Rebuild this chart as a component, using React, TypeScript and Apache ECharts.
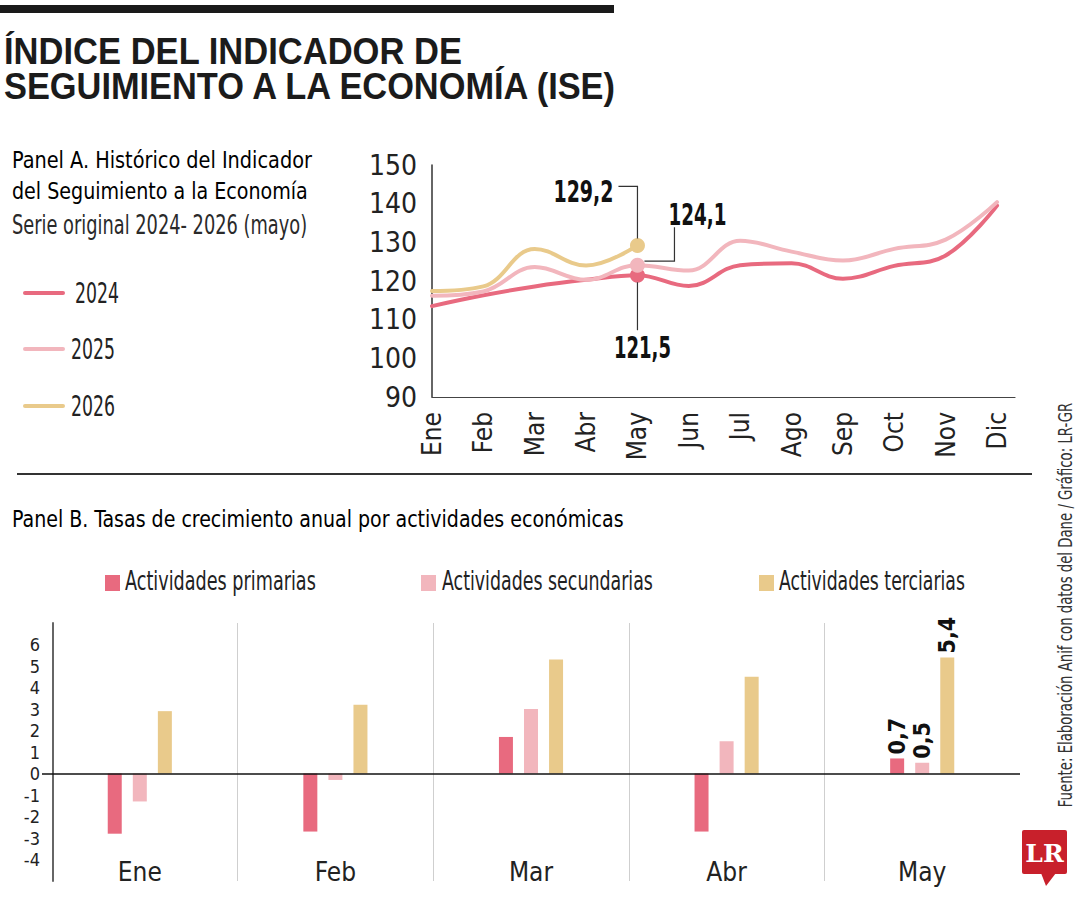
import React, { useEffect, useRef } from "react";
import * as echarts from "echarts";

// ---------- data ----------
const months = ["Ene", "Feb", "Mar", "Abr", "May", "Jun", "Jul", "Ago", "Sep", "Oct", "Nov", "Dic"];
const years = ["2024", "2025", "2026"];
const ise2024 = [113.5, 116.3, 118.6, 120.3, 121.5, 118.7, 124.1, 124.6, 120.6, 123.9, 126.6, 139.5];
const ise2025 = [116.2, 117.3, 123.6, 120.3, 124.1, 122.7, 130.4, 127.6, 125.3, 128.3, 130.7, 140.4];
const ise2026 = [117.4, 118.6, 128.3, 124.0, 129.2];

const barMonths = ["Ene", "Feb", "Mar", "Abr", "May"];
const sectors = ["Actividades primarias", "Actividades secundarias", "Actividades terciarias"];
const primarias = [-2.8, -2.7, 1.7, -2.7, 0.7];
const secundarias = [-1.3, -0.3, 3.0, 1.5, 0.5];
const terciarias = [2.9, 3.2, 5.3, 4.5, 5.4];

const title1 = "ÍNDICE DEL INDICADOR DE";
const title2 = "SEGUIMIENTO A LA ECONOMÍA (ISE)";
const panelA1 = "Panel A. Histórico del Indicador";
const panelA2 = "del Seguimiento a la Economía";
const panelA3 = "Serie original 2024- 2026 (mayo)";
const panelB = "Panel B. Tasas de crecimiento anual por actividades económicas";
const source = "Fuente: Elaboración Anif con datos del Dane / Gráfico: LR-GR";

// ---------- style ----------
const C_DARK = "#e86a7f";
const C_LIGHT = "#f2b6bd";
const C_GOLD = "#e9ca8b";
const lineColors = [C_DARK, C_LIGHT, C_GOLD];
const barColors = [C_DARK, C_LIGHT, C_GOLD];
const COND = "'Liberation Sans Narrow', 'DejaVu Sans Condensed', 'Liberation Sans', Arial, sans-serif";
const SANS = "'Liberation Sans', Arial, sans-serif";
const INK = "#1b1b1b";

const fmt = (v: number) => String(v).replace(".", ",");

let measureCtx: CanvasRenderingContext2D | null = null;
function fitScale(text: string, size: number, weight: string, family: string, target: number) {
  if (!measureCtx) measureCtx = document.createElement("canvas").getContext("2d");
  if (!measureCtx) return 1;
  measureCtx.font = `${weight} ${size}px ${family}`;
  const w = measureCtx.measureText(text).width;
  return w > 0 ? target / w : 1;
}

function txt(
  text: string,
  x: number,
  y: number,
  size: number,
  target: number,
  opts: { weight?: string; family?: string; fill?: string; align?: string; rotation?: number } = {}
) {
  const weight = opts.weight || "normal";
  const family = opts.family || COND;
  return {
    type: "text",
    x,
    y,
    z: 100,
    rotation: opts.rotation || 0,
    scaleX: fitScale(text, size, weight, family, target),
    style: {
      text,
      fontSize: size,
      fontWeight: weight,
      fontFamily: family,
      fill: opts.fill || INK,
      align: opts.align || "left",
      verticalAlign: "middle",
    },
  };
}

export default function App() {
  const ref = useRef<HTMLDivElement>(null);

  useEffect(() => {
    if (!ref.current) return;
    const chart = echarts.init(ref.current, null, { renderer: "svg", width: 1080, height: 900 });

    const isInt = (v: number) => Math.abs(v - Math.round(v)) < 1e-6;

    const lineSeries = [ise2024, ise2025, ise2026].map((arr, k) => ({
      type: "line",
      name: years[k],
      xAxisIndex: 0,
      yAxisIndex: 0,
      data: arr.map((v, i) => [i, v]),
      smooth: 0.4,
      symbol: "none",
      lineStyle: { width: 4, color: lineColors[k], cap: "round" },
      z: 2 + k,
    }));

    const dotSeries = [ise2024, ise2025, ise2026].map((arr, k) => ({
      type: "scatter",
      xAxisIndex: 0,
      yAxisIndex: 0,
      data: [[4, arr[4]]],
      symbolSize: 15,
      itemStyle: { color: lineColors[k], opacity: 1 },
      z: 10,
    }));

    const barSeries = [primarias, secundarias, terciarias].map((arr, k) => ({
      type: "bar",
      name: sectors[k],
      xAxisIndex: 1,
      yAxisIndex: 1,
      barWidth: 14,
      barGap: "79%",
      itemStyle: { color: barColors[k] },
      data: arr.map((v, i) =>
        i === barMonths.length - 1
          ? {
              value: v,
              label: {
                show: true,
                position: "top",
                rotate: 90,
                align: "left",
                verticalAlign: "middle",
                distance: 4,
                fontSize: 23,
                fontWeight: "bold",
                fontFamily: COND,
                color: "#111",
                formatter: (p: any) => fmt(p.value),
              },
            }
          : v
      ),
      markLine:
        k === 0
          ? {
              silent: true,
              symbol: "none",
              label: { show: false },
              lineStyle: { color: "#111", width: 1.5, type: "solid" },
              data: [{ yAxis: 0 }],
            }
          : undefined,
    }));

    chart.setOption({
      animation: false,
      backgroundColor: "#ffffff",
      grid: [
        { left: 432, top: 165, width: 583, height: 232 },
        { left: 42, top: 623, width: 978, height: 258 },
      ],
      xAxis: [
        {
          type: "value",
          gridIndex: 0,
          min: 0,
          max: 11.35,
          interval: 1,
          axisLine: { show: true, lineStyle: { color: "#444", width: 1.2 } },
          axisTick: { show: false },
          splitLine: { show: false },
          axisLabel: {
            rotate: 90,
            margin: 15,
            fontSize: 26,
            fontFamily: COND,
            color: "#222",
            showMaxLabel: false,
            formatter: (v: number) => (isInt(v) ? months[Math.round(v)] || "" : ""),
          },
        },
        {
          type: "category",
          gridIndex: 1,
          data: barMonths,
          axisLine: { show: false, onZero: false },
          axisTick: { show: false },
          axisLabel: { fontSize: 26, margin: -22, fontFamily: COND, color: "#222" },
          splitLine: {
            show: true,
            showMinLine: false,
            showMaxLine: false,
            lineStyle: { color: "#cfcfcf", width: 1 },
          },
        },
      ],
      yAxis: [
        {
          type: "value",
          gridIndex: 0,
          min: 90,
          max: 150,
          interval: 10,
          axisLine: { show: true, lineStyle: { color: "#333", width: 1.5 } },
          axisTick: { show: false },
          splitLine: { show: false },
          axisLabel: { fontSize: 28, margin: 15, fontFamily: COND, color: "#222" },
        },
        {
          type: "value",
          gridIndex: 1,
          min: -5,
          max: 7,
          interval: 1,
          offset: -11,
          axisLine: { show: true, lineStyle: { color: "#666", width: 2 } },
          axisTick: { show: false },
          splitLine: { show: false },
          axisLabel: {
            fontSize: 18,
            margin: 13,
            fontFamily: COND,
            color: "#222",
            formatter: (v: number) => (v < -4 || v > 6 ? "" : String(v)),
          },
        },
      ],
      series: [...lineSeries, ...dotSeries, ...barSeries],
    });

    // ---------- annotations & texts ----------
    const d = chart.convertToPixel({ seriesIndex: 3 }, [4, ise2024[4]]) as number[];
    const p = chart.convertToPixel({ seriesIndex: 4 }, [4, ise2025[4]]) as number[];
    const g = chart.convertToPixel({ seriesIndex: 5 }, [4, ise2026[4]]) as number[];
    const lead = { stroke: "#333", lineWidth: 1.2, fill: "none" };

    const graphics: any[] = [
      { type: "rect", z: 100, shape: { x: 0, y: 5, width: 614, height: 8 }, style: { fill: "#1a1a1a" } },
      txt(title1, 4, 52, 37, 459, { weight: "bold", family: SANS }),
      txt(title2, 4, 87, 37, 616, { weight: "bold", family: SANS }),
      txt(panelA1, 12, 160, 23, 300, { fill: "#000" }),
      txt(panelA2, 12, 191, 23, 296, { fill: "#000" }),
      txt(panelA3, 12, 225, 26, 295, { fill: "#2a2a2a" }),
      // legend panel A
      ...years.flatMap((yr, k) => {
        const cy = [293, 349, 406][k];
        const lx = [75, 71, 71][k];
        return [
          {
            type: "line",
            z: 100,
            shape: { x1: 25, y1: cy, x2: 63, y2: cy },
            style: { stroke: lineColors[k], lineWidth: 4, lineCap: "round" },
          },
          txt(yr, lx, cy, 29, 44, { fill: "#222" }),
        ];
      }),
      // separator
      { type: "line", z: 100, shape: { x1: 17, y1: 474, x2: 1032, y2: 474 }, style: { stroke: "#333", lineWidth: 2.2 } },
      txt(panelB, 12, 519, 23, 612, { fill: "#000" }),
      // legend panel B
      ...sectors.flatMap((s, k) => {
        const rx = [105, 421, 759][k];
        const tx = [125, 442, 779][k];
        const tw = [191, 211, 186][k];
        return [
          { type: "rect", z: 100, shape: { x: rx, y: 575, width: 15, height: 16 }, style: { fill: barColors[k] } },
          txt(s, tx, 581, 26, tw, { fill: "#222" }),
        ];
      }),
      // source
      txt(source, 1065, 605, 20, 405, { fill: "#333", align: "center", rotation: Math.PI / 2 }),
      // LR logo
      { type: "rect", z: 100, shape: { x: 1022, y: 830, width: 45, height: 44, r: 2 }, style: { fill: "#c8202b" } },
      {
        type: "polygon",
        z: 100,
        shape: { points: [[1041, 873], [1056, 873], [1046, 886]] },
        style: { fill: "#c8202b" },
      },
      {
        type: "text",
        z: 101,
        x: 1044.5,
        y: 853,
        style: {
          text: "LR",
          fontSize: 25,
          fontWeight: "bold",
          fontFamily: "'DejaVu Serif', 'Liberation Serif', serif",
          fill: "#fff",
          align: "center",
          verticalAlign: "middle",
        },
      },
      // leader lines
      { type: "polyline", z: 100, shape: { points: [[g[0] - 19, g[1] - 59], [g[0], g[1] - 59], [g[0], g[1] - 7]] }, style: lead },
      { type: "polyline", z: 100, shape: { points: [[p[0] + 7, p[1] - 4], [p[0] + 37, p[1] - 4], [p[0] + 37, p[1] - 38]] }, style: lead },
      { type: "polyline", z: 100, shape: { points: [[d[0], d[1] + 7], [d[0], d[1] + 55]] }, style: lead },
      txt(fmt(ise2026[4]), g[0] - 24, g[1] - 54, 30, 60, { weight: "bold", align: "right", fill: "#111" }),
      txt(fmt(ise2025[4]), p[0] + 31, p[1] - 51, 30, 58, { weight: "bold", fill: "#111" }),
      txt(fmt(ise2024[4]), d[0] + 5, d[1] + 72, 30, 57, { weight: "bold", align: "center", fill: "#111" }),
    ];

    chart.setOption({ graphic: graphics });

    return () => chart.dispose();
  }, []);

  return (
    <div
      ref={ref}
      style={{ position: "absolute", left: 0, top: 0, width: 1080, height: 900, background: "#fff" }}
    />
  );
}
